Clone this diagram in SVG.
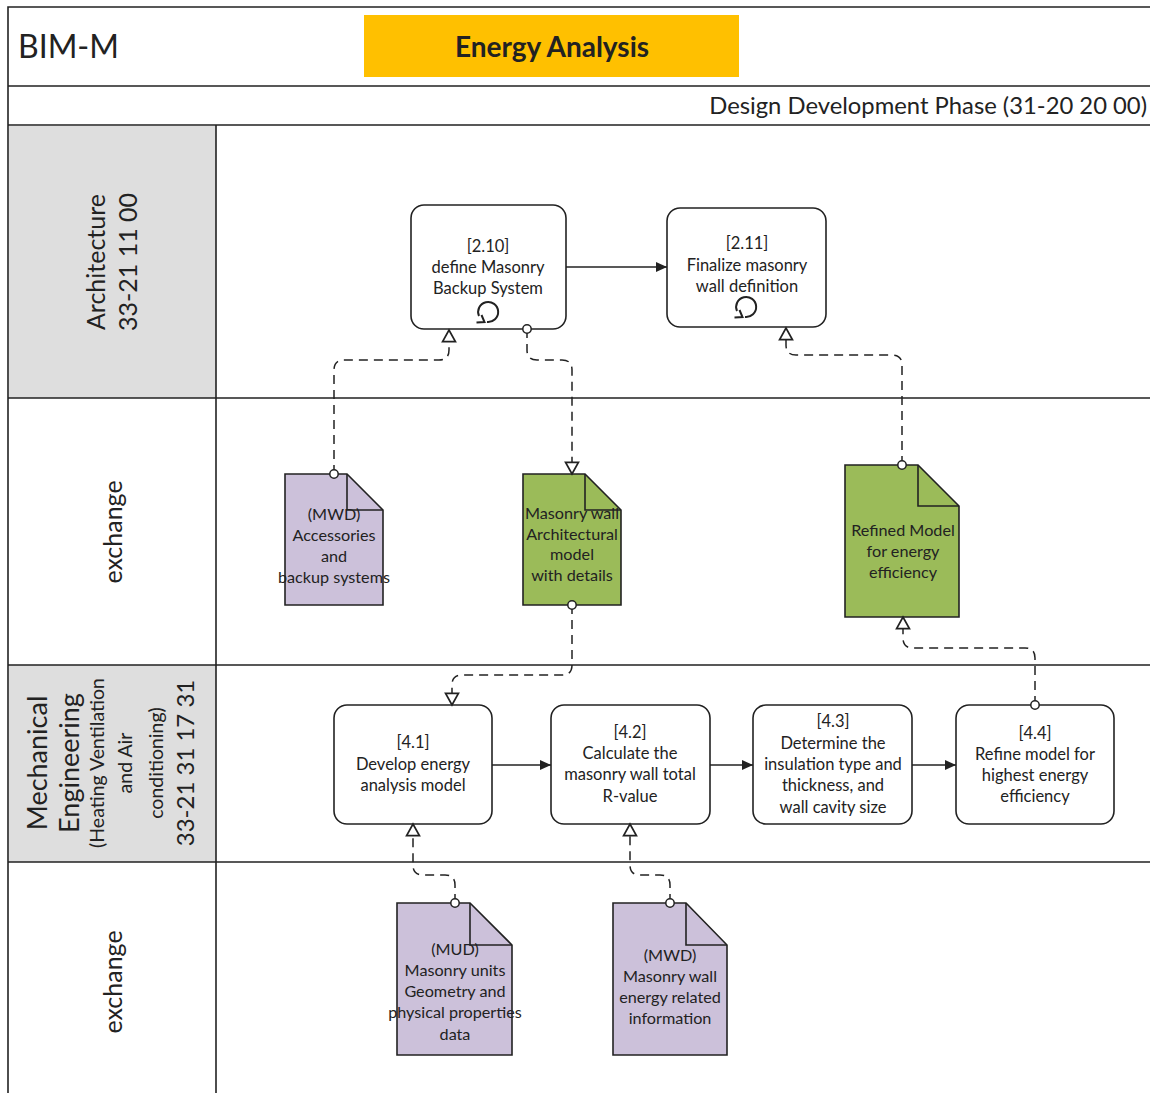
<svg xmlns="http://www.w3.org/2000/svg" width="1150" height="1093" viewBox="0 0 1150 1093">
<style>
text{font-family:Lato,"Liberation Sans",sans-serif;fill:#222}
.frame{stroke:#222;stroke-width:1.6;fill:none}
.lanebg{fill:#DEDEDE}
.node rect{fill:#fff;stroke:#222;stroke-width:1.6}
.node text{font-size:16.5px;text-anchor:middle}
.doc path.body{stroke:#222;stroke-width:1.6}
.doc path.fold{fill:none;stroke:#222;stroke-width:1.6}
.doc text{font-size:16.2px;text-anchor:middle}
.purple{fill:#CCC1DA}
.green{fill:#9BBB59}
.lane text{text-anchor:middle}
.dash{fill:none;stroke:#222;stroke-width:1.5;stroke-dasharray:9 6;marker-start:url(#circ);marker-end:url(#hollow)}
.solid{fill:none;stroke:#222;stroke-width:1.5;marker-end:url(#filled)}
</style>
<defs>
<marker id="hollow" markerUnits="userSpaceOnUse" markerWidth="14" markerHeight="14" viewBox="0 0 12 12" refX="10.5" refY="6" orient="auto" overflow="visible">
<path d="M0.5,0.5 L10.5,6 L0.5,11.5 Z" fill="#fff" stroke="#222" stroke-width="1.5"/>
</marker>
<marker id="circ" markerUnits="userSpaceOnUse" markerWidth="12" markerHeight="12" viewBox="0 0 12 12" refX="6" refY="6" orient="auto" overflow="visible">
<circle cx="6" cy="6" r="4.2" fill="#fff" stroke="#222" stroke-width="1.5"/>
</marker>
<marker id="filled" markerUnits="userSpaceOnUse" markerWidth="12" markerHeight="12" viewBox="0 0 12 12" refX="11" refY="6" orient="auto" overflow="visible">
<path d="M0,1 L11,6 L0,11 Z" fill="#222"/>
</marker>
<g id="loop">
<path d="M-9,4 A10,10 0 1 1 -1,9.9" fill="none" stroke="#222" stroke-width="2"/>
<path d="M-11.5,10.5 L-3.5,10 L-6.5,3" fill="none" stroke="#222" stroke-width="2"/>
</g>
</defs>

<!-- frame / lanes -->
<g id="lanes">
<rect class="lanebg" x="9" y="126" width="207" height="272"/>
<rect class="lanebg" x="9" y="665" width="207" height="197"/>
<path class="frame" d="M8,1093 V7 H1150 M8,86 H1150 M8,125 H1150 M8,398 H1150 M8,665 H1150 M8,862 H1150 M216,125 V1093"/>
<text x="18" y="58" style="font-size:32px">BIM-M</text>
<rect x="364" y="15" width="375" height="62" fill="#FFC000"/>
<text x="552" y="57" style="font-size:28px;font-weight:bold;text-anchor:middle">Energy Analysis</text>
<text x="1147" y="114" style="font-size:23.8px;text-anchor:end">Design Development Phase (31-20 20 00)</text>
<g class="lane" transform="translate(0,262) rotate(-90)">
<text x="0" y="105" style="font-size:25px">Architecture</text>
<text x="0" y="137" style="font-size:25px">33-21 11 00</text>
</g>
<g class="lane" transform="translate(0,532) rotate(-90)">
<text x="0" y="122" style="font-size:25px">exchange</text>
</g>
<g class="lane" transform="translate(0,763) rotate(-90)">
<text x="0" y="47" style="font-size:27px">Mechanical</text>
<text x="0" y="79" style="font-size:27px">Engineering</text>
<text x="0" y="104" style="font-size:19.5px">(Heating Ventilation</text>
<text x="0" y="132" style="font-size:19.5px">and Air</text>
<text x="0" y="163" style="font-size:19.5px">conditioning)</text>
<text x="0" y="194" style="font-size:24px">33-21 31 17 31</text>
</g>
<g class="lane" transform="translate(0,982) rotate(-90)">
<text x="0" y="122" style="font-size:25px">exchange</text>
</g>
</g>

<!-- process nodes -->
<g id="n2_10" class="node">
<rect x="411" y="205" width="155" height="124" rx="13"/>
<text x="488" y="252">[2.10]</text>
<text x="488" y="273">define Masonry</text>
<text x="488" y="294">Backup System</text>
<use href="#loop" x="488" y="312"/>
</g>
<g id="n2_11" class="node">
<rect x="667" y="208" width="159" height="119" rx="13"/>
<text x="747" y="249">[2.11]</text>
<text x="747" y="271">Finalize masonry</text>
<text x="747" y="292">wall definition</text>
<use href="#loop" x="746" y="307"/>
</g>
<g id="n4_1" class="node">
<rect x="334" y="705" width="158" height="119" rx="13"/>
<text x="413" y="748">[4.1]</text>
<text x="413" y="770">Develop energy</text>
<text x="413" y="791">analysis model</text>
</g>
<g id="n4_2" class="node">
<rect x="551" y="705" width="159" height="119" rx="13"/>
<text x="630" y="738">[4.2]</text>
<text x="630" y="759">Calculate the</text>
<text x="630" y="780">masonry wall total</text>
<text x="630" y="802">R-value</text>
</g>
<g id="n4_3" class="node">
<rect x="753" y="705" width="159" height="119" rx="13"/>
<text x="833" y="727">[4.3]</text>
<text x="833" y="749">Determine the</text>
<text x="833" y="770">insulation type and</text>
<text x="833" y="791">thickness, and</text>
<text x="833" y="813">wall cavity size</text>
</g>
<g id="n4_4" class="node">
<rect x="956" y="705" width="158" height="119" rx="13"/>
<text x="1035" y="739">[4.4]</text>
<text x="1035" y="760">Refine model for</text>
<text x="1035" y="781">highest energy</text>
<text x="1035" y="802">efficiency</text>
</g>

<!-- documents -->
<g id="doc1" class="doc">
<path class="body purple" d="M285,474 H347 L383,510 V605 H285 Z"/>
<path class="fold" d="M347,474 V510 H383"/>
<text x="334" y="520">(MWD)</text>
<text x="334" y="541">Accessories</text>
<text x="334" y="562">and</text>
<text x="334" y="583">backup systems</text>
</g>
<g id="doc2" class="doc">
<path class="body green" d="M523,474 H585 L621,510 V605 H523 Z"/>
<path class="fold" d="M585,474 V510 H621"/>
<text x="572" y="519">Masonry wall</text>
<text x="572" y="540">Architectural</text>
<text x="572" y="560">model</text>
<text x="572" y="581">with details</text>
</g>
<g id="doc3" class="doc">
<path class="body green" d="M845,465 H918 L959,506 V617 H845 Z"/>
<path class="fold" d="M918,465 V506 H959"/>
<text x="903" y="536">Refined Model</text>
<text x="903" y="557">for energy</text>
<text x="903" y="578">efficiency</text>
</g>
<g id="doc4" class="doc">
<path class="body purple" d="M397,903 H470 L512,945 V1055 H397 Z"/>
<path class="fold" d="M470,903 V945 H512"/>
<text x="455" y="955">(MUD)</text>
<text x="455" y="976">Masonry units</text>
<text x="455" y="997">Geometry and</text>
<text x="455" y="1018">physical properties</text>
<text x="455" y="1040">data</text>
</g>
<g id="doc5" class="doc">
<path class="body purple" d="M613,903 H686 L727,945 V1055 H613 Z"/>
<path class="fold" d="M686,903 V945 H727"/>
<text x="670" y="961">(MWD)</text>
<text x="670" y="982">Masonry wall</text>
<text x="670" y="1003">energy related</text>
<text x="670" y="1024">information</text>
</g>

<!-- connectors -->
<g id="connectors">
<path class="solid" d="M566,267 H667"/>
<path class="solid" d="M492,765 H551"/>
<path class="solid" d="M710,765 H753"/>
<path class="solid" d="M912,765 H956"/>
<path class="dash" d="M334,474 V370 Q334,360 344,360 H439 Q449,360 449,350 V330"/>
<path class="dash" d="M527,329 V350 Q527,360 537,360 H562 Q572,360 572,370 V474"/>
<path class="dash" d="M902,465 V365 Q902,355 892,355 H796 Q786,355 786,345 V328"/>
<path class="dash" d="M572,605 V665 Q572,675 562,675 H462 Q452,675 452,685 V705"/>
<path class="dash" d="M1035,705 V658 Q1035,648 1025,648 H913 Q903,648 903,638 V617"/>
<path class="dash" d="M455,903 V885 Q455,875 445,875 H423 Q413,875 413,865 V824"/>
<path class="dash" d="M670,903 V885 Q670,875 660,875 H640 Q630,875 630,865 V824"/>
</g>
</svg>
